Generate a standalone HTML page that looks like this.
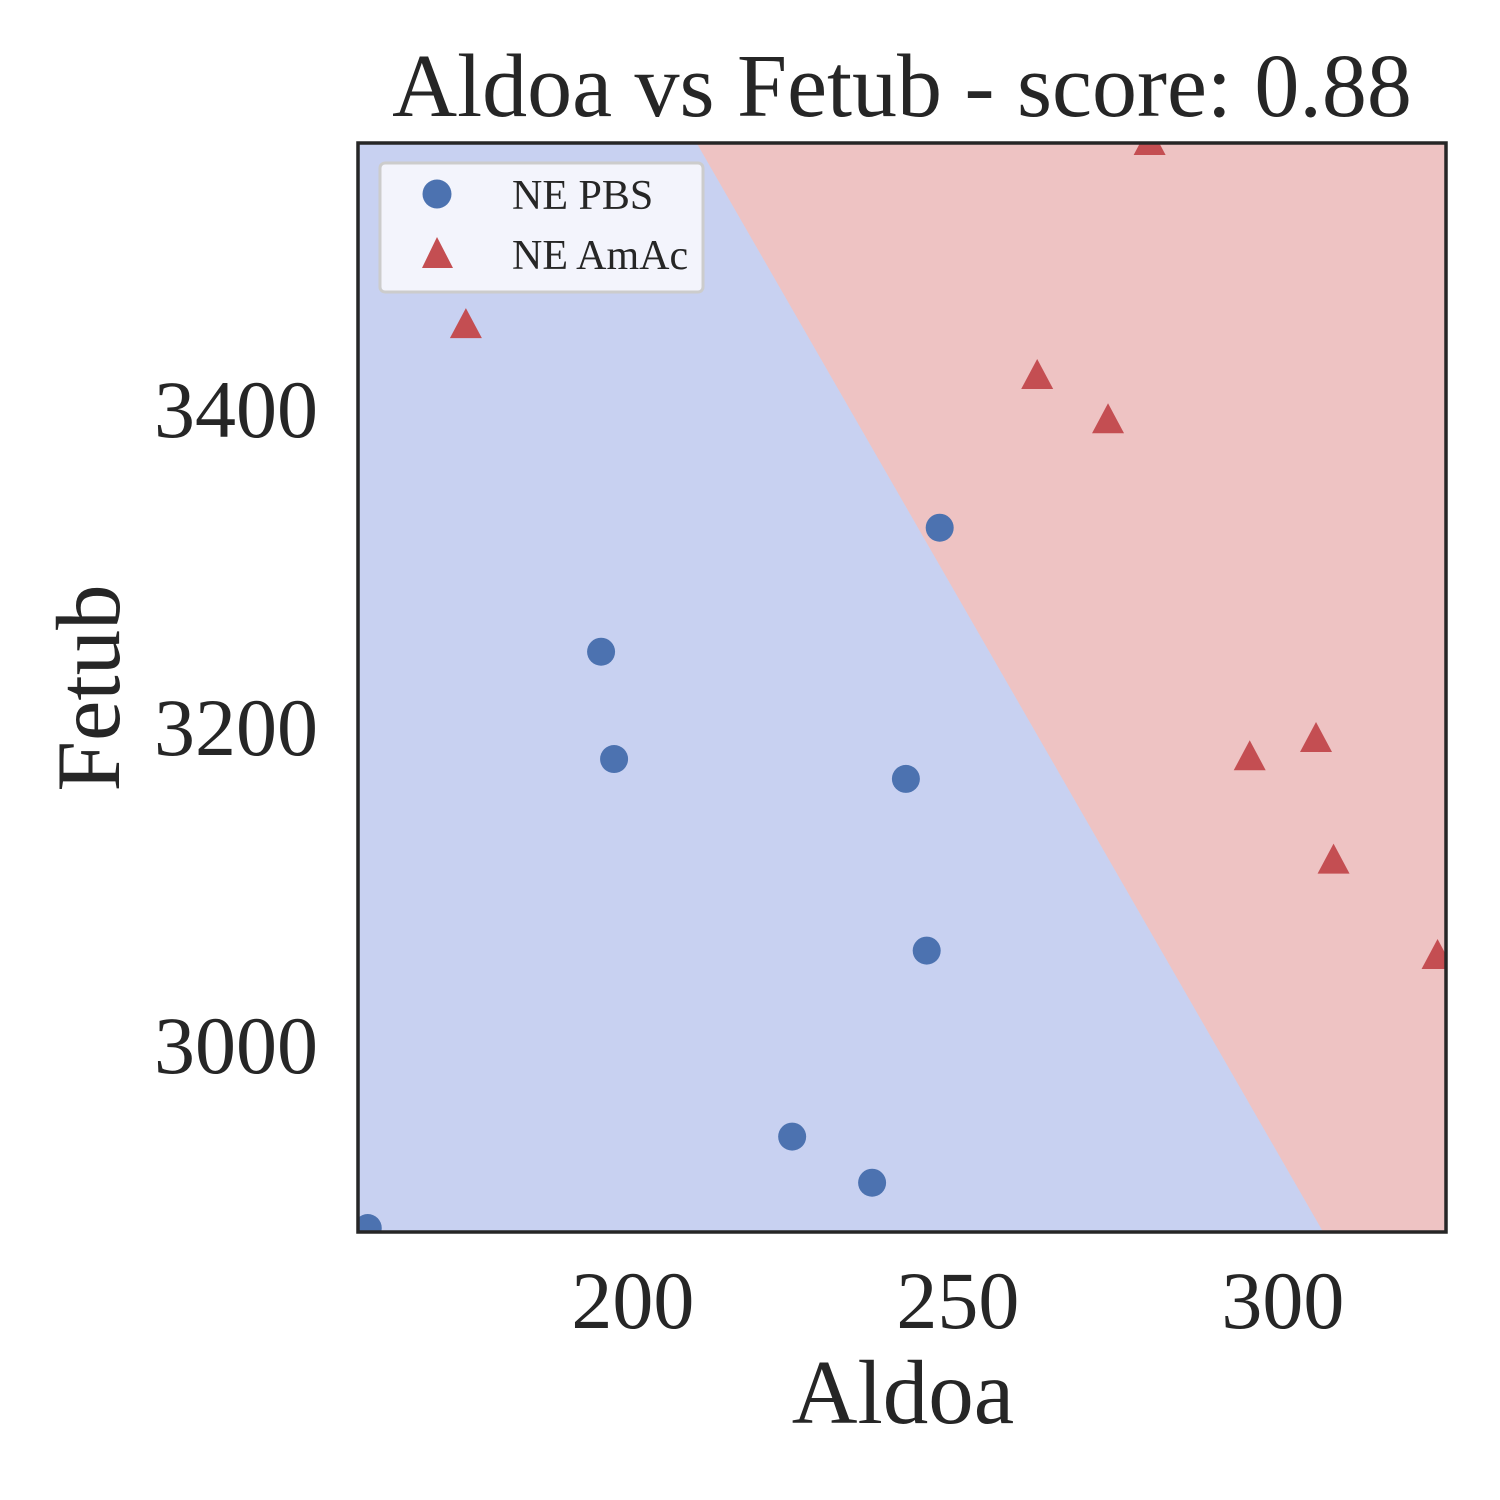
<!DOCTYPE html>
<html><head><meta charset="utf-8">
<style>
html,body{margin:0;padding:0;background:#fff;}
svg{display:block;font-family:"Liberation Serif","DejaVu Serif",serif;}
</style></head>
<body>
<svg id="chart" width="1500" height="1500" viewBox="0 0 1500 1500">
</svg>
<script>
const xTicks = [200, 250, 300];
const yTicks = [3000, 3200, 3400];
const pbsX = [159.2, 195.1, 197.1, 247.2, 242.0, 245.2, 224.5, 236.8];
const pbsY = [2885.5, 3248, 3180.5, 3326, 3168, 3060, 2943, 2914];
const amacX = [174.3, 279.5, 262.2, 273.1, 294.9, 305.1, 307.8, 323.8];
const amacY = [3452.8, 3568, 3420.8, 3393, 3181, 3192.5, 3116, 3056];
const boundaryX = [209.8, 306.2];
const boundaryY = [3568, 2883];

const L=358, R=1446, T=143, B=1232;
const xMin=157.7, xMax=325.1, yMin=2883, yMax=3568;
const sx = v => L + (v - xMin) / (xMax - xMin) * (R - L);
const sy = v => B - (v - yMin) / (yMax - yMin) * (B - T);
const NS = "http://www.w3.org/2000/svg";
const svg = document.getElementById('chart');
function mk(tag, attrs, parent){ const e=document.createElementNS(NS,tag); for(const k in attrs) e.setAttribute(k,attrs[k]); (parent||svg).appendChild(e); return e; }

const defs = mk('defs',{});
const cp = mk('clipPath',{id:'plotclip'},defs);
mk('rect',{x:L,y:T,width:R-L,height:B-T},cp);

const bg = mk('rect',{x:L,y:T,width:R-L,height:B-T,fill:'#c8d1f1'});



const bx0=sx(boundaryX[0]), by0=sy(boundaryY[0]), bx1=sx(boundaryX[1]), by1=sy(boundaryY[1]);
const dx=(bx1-bx0)/(by1-by0);
const topX = bx0 + (T-by0)*dx, botX = bx0 + (B-by0)*dx;
const red = mk('polygon',{points:`${topX},${T} ${R},${T} ${R},${B} ${botX},${B}`,fill:'#eec3c3','clip-path':'url(#plotclip)'});



const pts = mk('g',{'clip-path':'url(#plotclip)'});


for(let i=0;i<pbsX.length;i++){
  const c = mk('circle',{cx:sx(pbsX[i]),cy:sy(pbsY[i]),r:14,fill:'#4c72b0'},pts);
  
  
}
for(let i=0;i<amacX.length;i++){
  const x=sx(amacX[i]), y=sy(amacY[i]);
  const t = mk('polygon',{points:`${x},${y-18} ${x+16},${y+12} ${x-16},${y+12}`,fill:'#c44e52'},pts);
  
  
}

const frame = mk('rect',{x:L,y:T,width:R-L,height:B-T,fill:'none',stroke:'#262626','stroke-width':3.5});



for(const v of xTicks){
  const t = mk('text',{x:sx(v),y:1328,'font-size':82,'text-anchor':'middle',fill:'#262626'});
  t.textContent=v;
  
  
}
for(const v of yTicks){
  const t = mk('text',{x:318,y:sy(v)+27,'font-size':82,'text-anchor':'end',fill:'#262626'});
  t.textContent=v;
  
  
}

const xt = mk('text',{x:903,y:1423,'font-size':91,'text-anchor':'middle',fill:'#262626'});
xt.textContent='Aldoa';


const yt = mk('text',{x:0,y:0,'font-size':91,'text-anchor':'middle',fill:'#262626',transform:'translate(119,688) rotate(-90)'});
yt.textContent='Fetub';


const title = mk('text',{x:902,y:116,'font-size':90,'text-anchor':'middle',fill:'#262626'});
title.textContent='Aldoa vs Fetub - score: 0.88';



const lg = mk('g',{});


mk('rect',{x:380,y:163,width:323,height:129,rx:5,fill:'#f3f4fc',stroke:'#cccccc','stroke-width':3},lg);
const lc = mk('circle',{cx:437,cy:194,r:14.5,fill:'#4c72b0'},lg);


const ltri = mk('polygon',{points:'437,237 453,268 422,268',fill:'#c44e52'},lg);


const l1 = mk('text',{x:512,y:209,'font-size':42,fill:'#262626'},lg);
l1.textContent='NE PBS';


const l2 = mk('text',{x:512,y:269,'font-size':42,fill:'#262626'},lg);
l2.textContent='NE AmAc';


</script>
</body></html>
